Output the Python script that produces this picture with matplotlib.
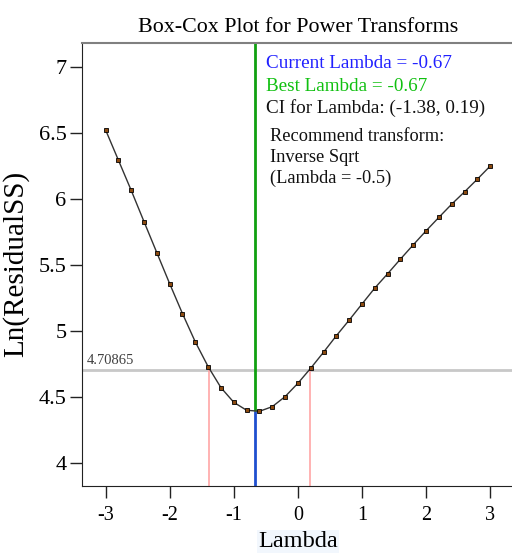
import matplotlib
matplotlib.use('Agg')
import matplotlib.pyplot as plt

# Box-Cox data
lambdas = [-3.0, -2.8, -2.6, -2.4, -2.2, -2.0, -1.8, -1.6, -1.4, -1.2, -1.0,
           -0.8, -0.6, -0.4, -0.2, 0.0, 0.2, 0.4, 0.6, 0.8, 1.0, 1.2, 1.4,
           1.6, 1.8, 2.0, 2.2, 2.4, 2.6, 2.8, 3.0]
ln_rss = [6.523, 6.294, 6.065, 5.828, 5.593, 5.359, 5.132, 4.918, 4.731,
          4.572, 4.461, 4.401, 4.393, 4.428, 4.504, 4.605, 4.719, 4.840,
          4.965, 5.083, 5.205, 5.326, 5.434, 5.545, 5.653, 5.759,
          5.861, 5.961, 6.054, 6.150, 6.249]
ci_threshold = 4.70865
ci_low, ci_high = -1.38, 0.19
current_lambda = -0.67
min_value = 4.393
x_ticks = [-3, -2, -1, 0, 1, 2, 3]
y_ticks = [4, 4.5, 5, 5.5, 6, 6.5, 7]
y_ticklabels = ['4', '4.5', '5', '5.5', '6', '6.5', '7']

plt.rcParams['font.family'] = ['Liberation Serif', 'DejaVu Serif']

fig = plt.figure(figsize=(5.12, 5.53), dpi=100)
ax = fig.add_axes([0.1611, 0.1217, 0.8414, 0.8005])
ax.set_xlim(-3.36, 3.36)
ax.set_ylim(3.83, 7.18)

# reference lines
ax.axhline(ci_threshold, color='#c8c8c8', lw=2, zorder=1)
ax.vlines([ci_low, ci_high], 3.83, ci_threshold, color='#ffa5a5', lw=1.2, zorder=1)
ax.vlines(current_lambda, 3.83, min_value, color='#1f4fcf', lw=2, zorder=2)
ax.vlines(current_lambda, min_value, 7.18, color='#10a010', lw=2, zorder=2)

ax.plot(lambdas, ln_rss, color='#333333', lw=1.0, marker='s', ms=3.4,
        mfc='#8b4a10', mec='black', mew=0.6, zorder=3)

ax.text(-3.29, ci_threshold + 0.02, '4.70865', fontsize=10.5, color='#404040',
        va='bottom', ha='left')

# spines and ticks
ax.spines['right'].set_visible(False)
ax.spines['top'].set_color('#808080')
ax.spines['top'].set_linewidth(1.5)
ax.spines['left'].set_color('#222222')
ax.spines['bottom'].set_color('#222222')
ax.set_xticks(x_ticks)
ax.set_xticklabels([str(t) for t in x_ticks], fontsize=14.5)
ax.set_yticks(y_ticks)
ax.set_yticklabels(y_ticklabels, fontsize=16)
ax.tick_params(axis='both', direction='out', length=8.5, width=1, color='#222222', pad=3)
ax.tick_params(axis='x', pad=6)

ax.set_title('Box-Cox Plot for Power Transforms', fontsize=15.8, pad=8)
ax.set_xlabel('Lambda', fontsize=17.5, labelpad=4.5,
              bbox=dict(facecolor='#f2f7fd', edgecolor='none', pad=1))
ax.set_ylabel('Ln(ResidualSS)', fontsize=21, labelpad=7)

# annotation block
tx = 266 / 512
fig.text(tx, 1 - 68 / 553, 'Current Lambda = -0.67', color='#2020ff', fontsize=13.8, va='baseline')
fig.text(tx, 1 - 91 / 553, 'Best Lambda = -0.67', color='#10c010', fontsize=13.8, va='baseline')
fig.text(tx, 1 - 113 / 553, 'CI for Lambda: (-1.38, 0.19)', color='#111111', fontsize=13.8, va='baseline')
tx2 = 270 / 512
fig.text(tx2, 1 - 141 / 553, 'Recommend transform:', color='#111111', fontsize=13.2, va='baseline')
fig.text(tx2, 1 - 162 / 553, 'Inverse Sqrt', color='#111111', fontsize=13.2, va='baseline')
fig.text(tx2, 1 - 183 / 553, '(Lambda = -0.5)', color='#111111', fontsize=13.2, va='baseline')

fig.savefig('out.png', dpi=100)
